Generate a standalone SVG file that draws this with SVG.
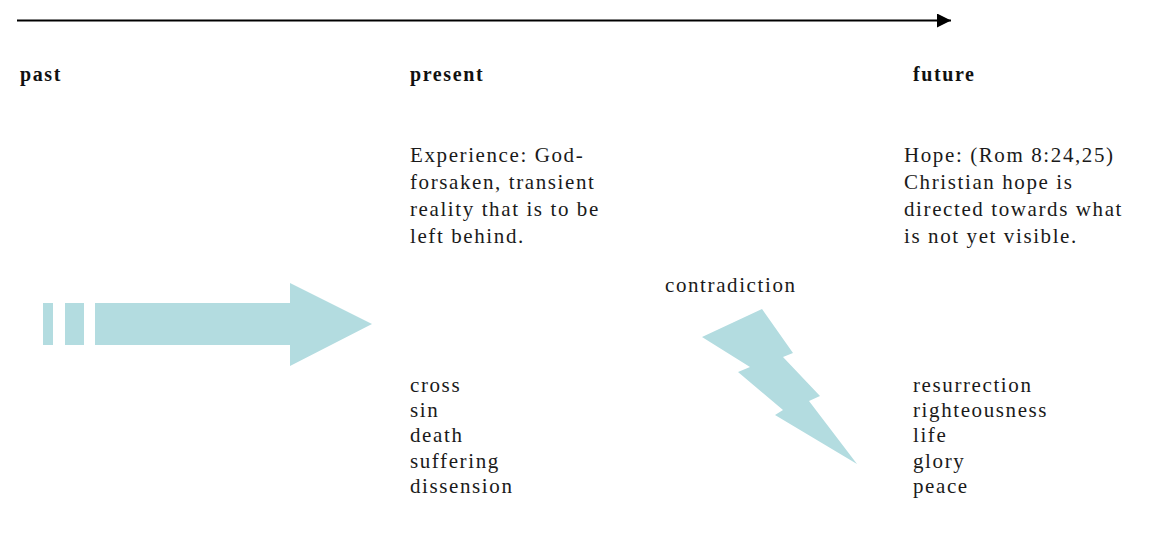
<svg xmlns="http://www.w3.org/2000/svg" width="1151" height="558" viewBox="0 0 1151 558">
<style>
.t{font-family:"Liberation Serif","Times New Roman",serif;font-size:21px;letter-spacing:1.6px;fill:#1a1a1a}
.h{font-family:"Liberation Serif","Times New Roman",serif;font-size:20px;font-weight:bold;letter-spacing:1.6px;fill:#111}
.shape{fill:#b3dce0}
</style>
<defs>
<marker id="ah" viewBox="0 0 10 10" refX="10" refY="5" markerWidth="7" markerHeight="7" markerUnits="strokeWidth" orient="auto">
<path d="M0,0 L10,5 L0,10 Z" fill="#000"/>
</marker>
</defs>
<rect width="1151" height="558" fill="#fff"/>
<g id="connectors">
<line x1="17" y1="20.5" x2="951" y2="20.5" stroke="#000" stroke-width="2" marker-end="url(#ah)"/>
</g>
<g id="past">
<text class="h" x="20" y="81">past</text>
<rect class="shape" x="43" y="303" width="10" height="42"/>
<rect class="shape" x="65" y="303" width="19" height="42"/>
<polygon class="shape" points="95,303 290,303 290,283 372,324 290,366 290,345 95,345"/>
</g>
<g id="present">
<text class="h" x="410" y="81">present</text>
<text class="t" x="410" y="162">Experience: God-</text>
<text class="t" x="410" y="189">forsaken, transient</text>
<text class="t" x="410" y="216">reality that is to be</text>
<text class="t" x="410" y="243">left behind.</text>
<text class="t" x="410" y="392">cross</text>
<text class="t" x="410" y="417">sin</text>
<text class="t" x="410" y="442">death</text>
<text class="t" x="410" y="468">suffering</text>
<text class="t" x="410" y="493">dissension</text>
</g>
<g id="contradiction">
<text class="t" x="665" y="292">contradiction</text>
<polygon class="shape" points="702,337 762,309 793,353 783,357 820,396 809,401 857,464 775,415 783,410 738,372 750,367"/>
</g>
<g id="future">
<text class="h" x="913" y="81">future</text>
<text class="t" x="904" y="162">Hope: (Rom 8:24,25)</text>
<text class="t" x="904" y="189">Christian hope is</text>
<text class="t" x="904" y="216">directed towards what</text>
<text class="t" x="904" y="243">is not yet visible.</text>
<text class="t" x="913" y="392">resurrection</text>
<text class="t" x="913" y="417">righteousness</text>
<text class="t" x="913" y="442">life</text>
<text class="t" x="913" y="468">glory</text>
<text class="t" x="913" y="493">peace</text>
</g>
</svg>
